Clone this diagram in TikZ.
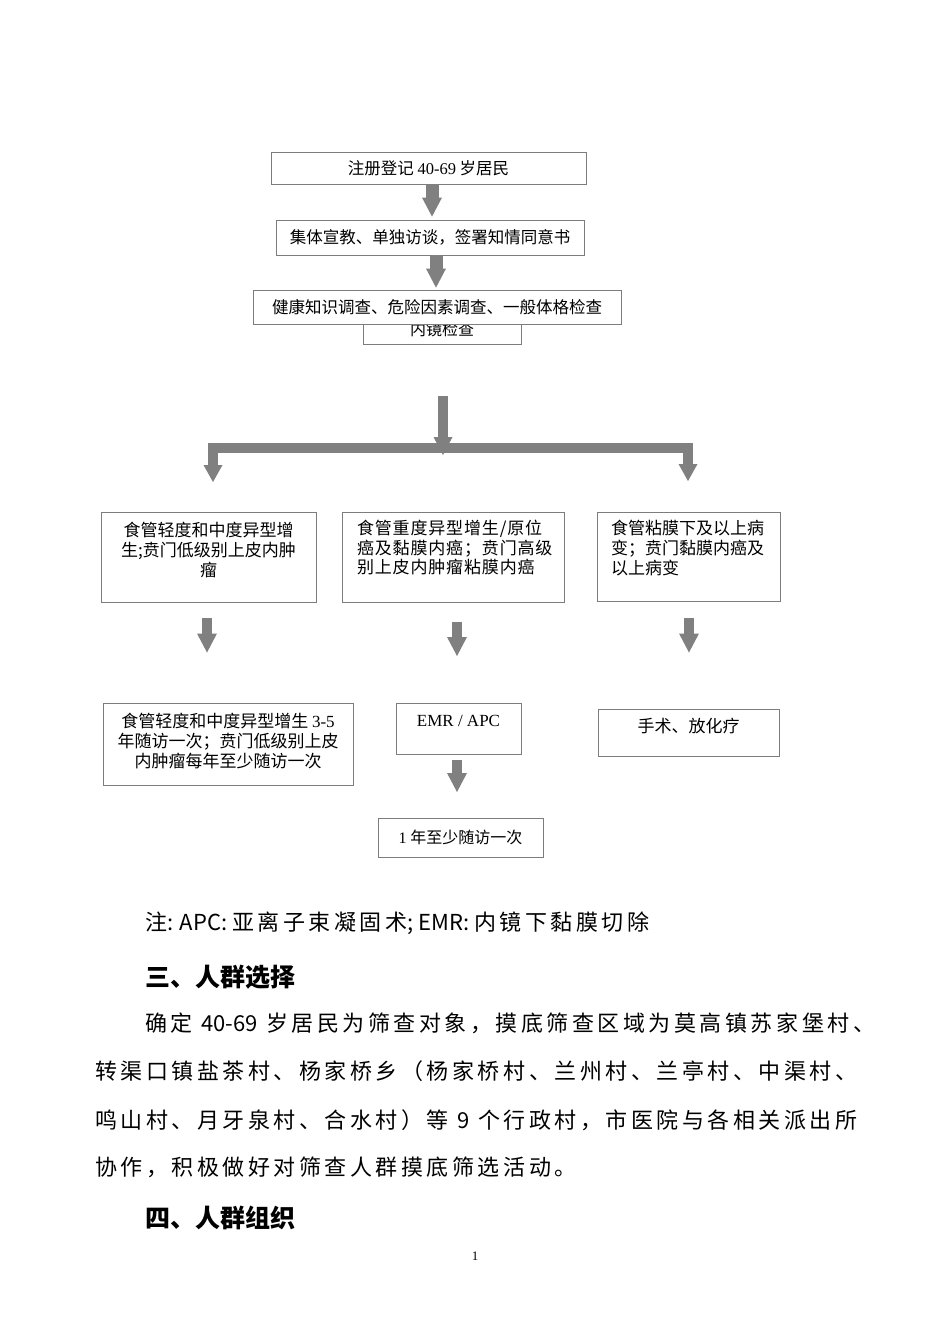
\documentclass[tikz,border=0pt]{standalone}
\usepackage{fontspec}
\setmainfont{Noto Sans CJK SC}
\newfontfamily\spaced{Noto Sans CJK SC}[LetterSpace=16]
\newfontfamily\boxspaced{Noto Sans CJK SC}[LetterSpace=5]
\newfontfamily\tnr{Liberation Serif}
\usetikzlibrary{arrows.meta}
\definecolor{arrowgray}{RGB}{128,128,128}
\definecolor{boxline}{RGB}{125,125,125}
\begin{document}
\begin{tikzpicture}[x=1pt,y=-1pt,
  flowbox/.style={draw=boxline, line width=0.8pt, fill=white, inner sep=0pt},
  fat/.style={draw=arrowgray, line width=13pt, -{Triangle[width=20pt,length=19pt,line width=0pt]}},
  smallarrow/.style={draw=arrowgray, line width=10pt, -{Triangle[width=20pt,length=19pt,line width=0pt]}},
  hubarrow/.style={draw=arrowgray, line width=10pt, -{Triangle[width=19pt,length=18pt,line width=0pt]}},
  branch/.style={draw=arrowgray, line width=10pt, line join=miter,
    {Triangle[width=19pt,length=17pt,line width=0pt]}-{Triangle[width=19pt,length=17pt,line width=0pt]}},
  bodytext/.style={anchor=west, inner sep=0pt, font=\fontsize{22}{26}\spaced},
  notetext/.style={anchor=west, inner sep=0pt, font=\fontsize{22}{26}\selectfont},
  headtext/.style={anchor=west, inner sep=0pt, font=\fontsize{25}{30}\selectfont\bfseries},
]
\useasboundingbox[fill=white] (0,0) rectangle (950,1344);

% top chain
\node[flowbox, minimum width=315pt, minimum height=32pt, font=\fontsize{16.5}{20}\selectfont] (b1) at (428.5,168) {注册登记 {\tnr 40-69} 岁居民};
\node[flowbox, minimum width=308pt, minimum height=35pt, font=\fontsize{16.5}{20}\selectfont] (b2) at (430,237.5) {集体宣教、单独访谈，签署知情同意书};
\node[flowbox, minimum width=158pt, minimum height=30pt, font=\fontsize{16}{20}\selectfont] (b4) at (442,329) {内镜检查};
\node[flowbox, minimum width=368pt, minimum height=34pt, font=\fontsize{16.5}{20}\selectfont] (b3) at (437,307) {健康知识调查、危险因素调查、一般体格检查};

\draw[fat, shorten >=3pt] ([xshift=3.5pt]b1.south) -- ([xshift=2pt]b2.north);
\draw[fat, shorten >=2pt] ([xshift=6pt]b2.south) -- ([xshift=-1pt]b3.north);

% branch
\coordinate (hubtop) at (443,396);
\coordinate (hubtip) at (443,455);
\coordinate (barmid) at (443,447.5);
\coordinate (bl) at (213,482);
\coordinate (br) at (688,481);
\draw[branch] (bl) |- (barmid) -| (br);
\draw[hubarrow] (hubtop) -- (hubtip);

% middle row
\node[flowbox, font=\fontsize{17}{20}\selectfont] (ml) at (208.5,557)
  {\parbox[c][90pt][t]{215pt}{\vspace*{10pt}\centering 食管轻度和中度异型增\\生;贲门低级别上皮内肿\\瘤}};
\node[flowbox, font=\fontsize{17}{19.5}\boxspaced] (mm) at (453,557)
  {\parbox[c][90pt][t]{222pt}{\vspace*{8.5pt}\raggedright\leftskip=15pt 食管重度异型增生/原位\\癌及黏膜内癌；贲门高级\\别上皮内肿瘤粘膜内癌}};
\node[flowbox, font=\fontsize{17}{20}\selectfont] (mr) at (688.5,556.5)
  {\parbox[c][89pt][t]{183pt}{\vspace*{8.5pt}\raggedright\leftskip=14pt 食管粘膜下及以上病\\变；贲门黏膜内癌及\\以上病变}};

% small arrows
\coordinate (s1a) at (207,618);
\coordinate (s1b) at (207,652.5);
\coordinate (s2a) at (457,622);
\coordinate (s2b) at (457,656);
\coordinate (s3a) at (689,618);
\coordinate (s3b) at (689,652.5);
\draw[smallarrow] (s1a) -- (s1b);
\draw[smallarrow] (s2a) -- (s2b);
\draw[smallarrow] (s3a) -- (s3b);

% bottom row
\node[flowbox, font=\fontsize{17}{20}\selectfont] (bl2) at (228,744)
  {\parbox[c][82pt][t]{250pt}{\vspace*{10pt}\centering 食管轻度和中度异型增生 {\tnr 3-5}\\年随访一次；贲门低级别上皮\\内肿瘤每年至少随访一次}};
\node[flowbox, font=\fontsize{17}{20}\tnr] (bm) at (458.5,728.5)
  {\parbox[c][51pt][t]{125pt}{\vspace*{12pt}\centering EMR / APC}};
\node[flowbox, font=\fontsize{17}{20}\selectfont] (br2) at (688.5,732.5)
  {\parbox[c][47pt][t]{181pt}{\vspace*{9.5pt}\centering 手术、放化疗}};
\coordinate (s4a) at (457,760);
\coordinate (s4b) at (457,792);
\draw[smallarrow] (s4a) -- (s4b);
\node[flowbox, minimum width=165pt, minimum height=39pt, font=\fontsize{16}{20}\selectfont] (bm3) at (460.5,837.5) {{\tnr 1} 年至少随访一次};

% text below
\node[notetext] (note) at (145,923) {{\spaced 注}: APC: {\spaced 亚离子束凝固术}; EMR: {\spaced 内镜下黏膜切除}};
\node[headtext] (h3) at (145,977) {三、人群选择};
\node[bodytext] (l1) at (145,1023) {确定 {\normalfont 40-69} 岁居民为筛查对象，摸底筛查区域为莫高镇苏家堡村、};
\node[bodytext] (l2) at (95,1071) {转渠口镇盐茶村、杨家桥乡（杨家桥村、兰州村、兰亭村、中渠村、};
\node[bodytext] (l3) at (95,1120) {鸣山村、月牙泉村、合水村）等 {\normalfont 9} 个行政村，市医院与各相关派出所};
\node[bodytext] (l4) at (95,1167) {协作，积极做好对筛查人群摸底筛选活动。};
\node[headtext] (h4) at (145,1218) {四、人群组织};
\node[font=\fontsize{13}{15}\tnr, inner sep=0pt] (pg) at (475,1256) {1};
\end{tikzpicture}
\end{document}
